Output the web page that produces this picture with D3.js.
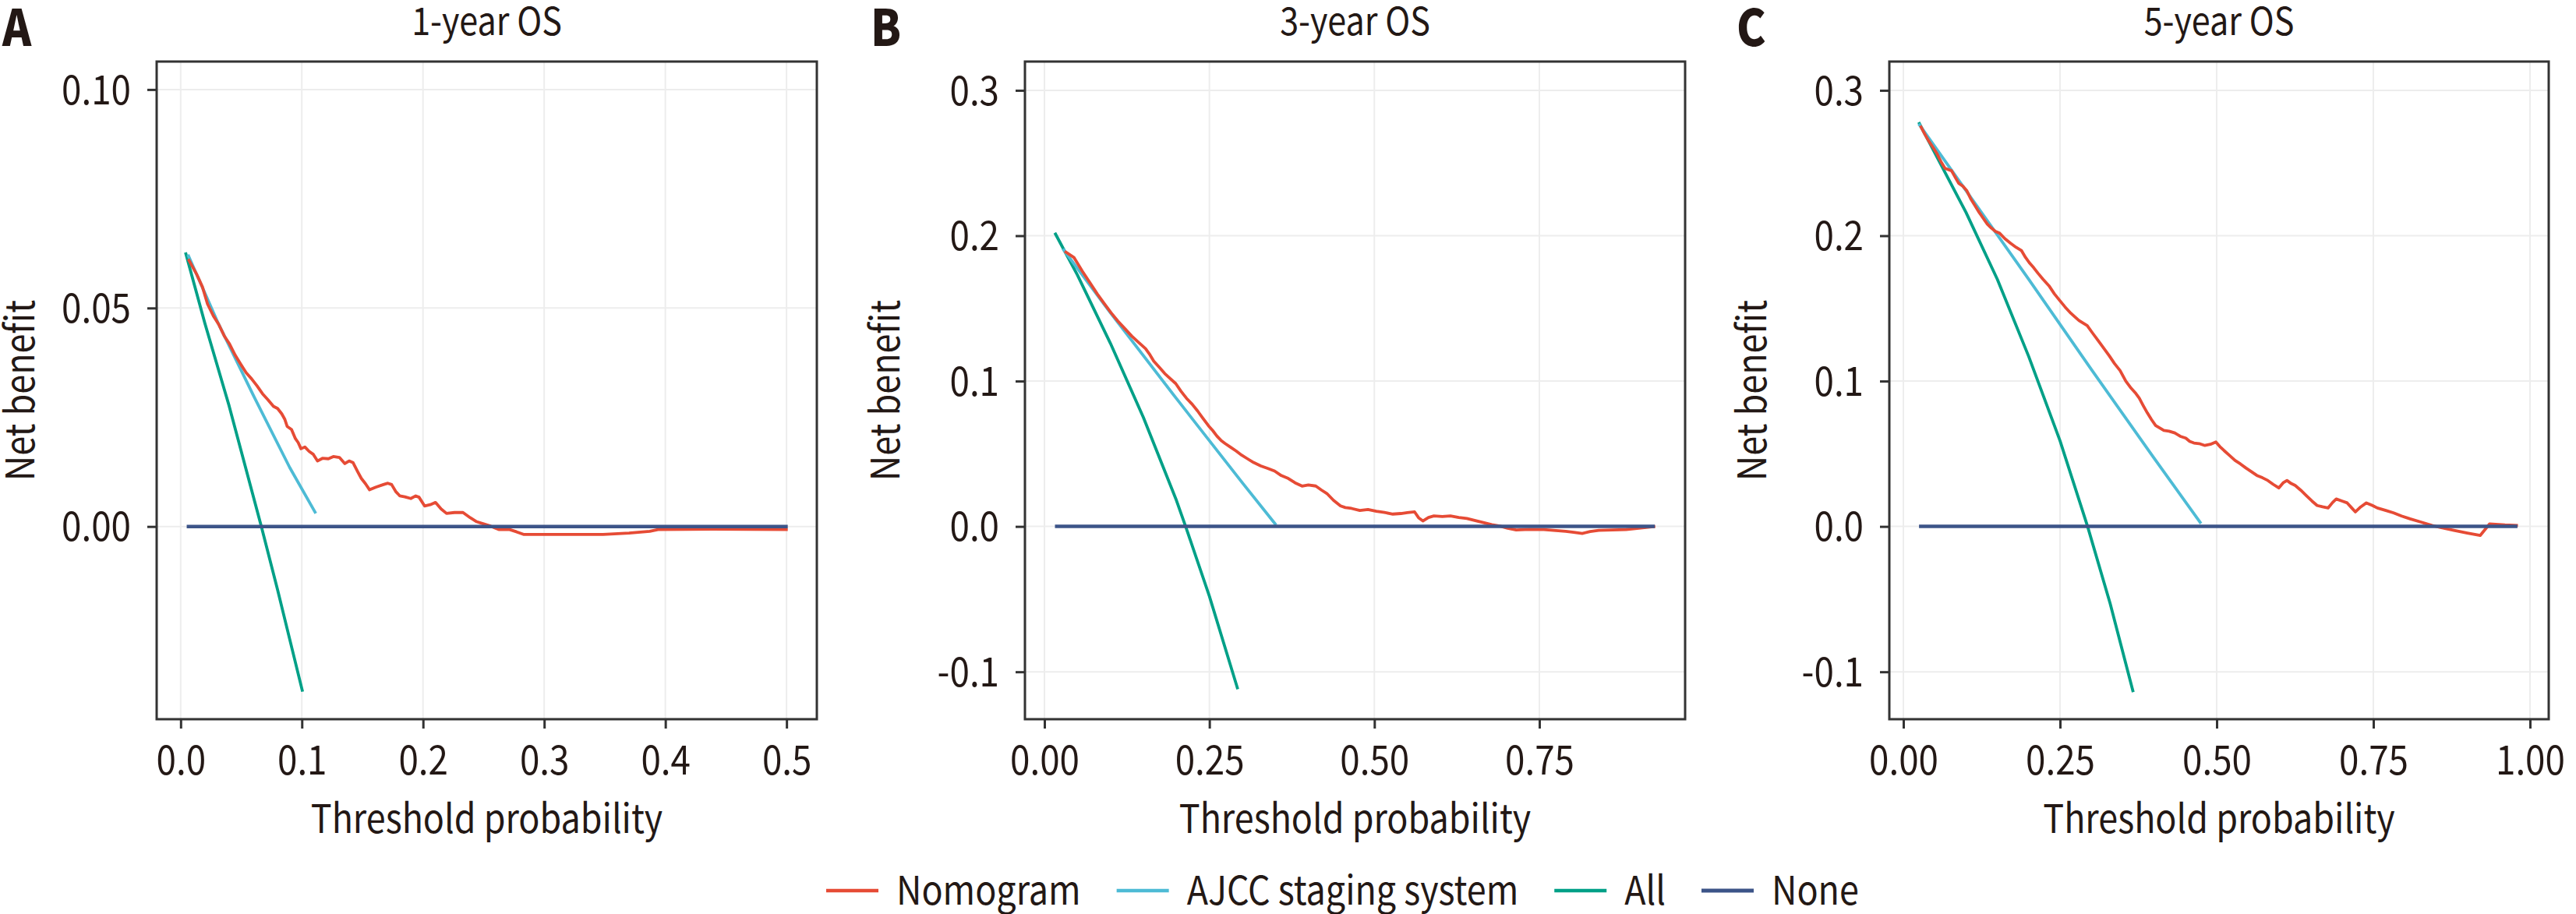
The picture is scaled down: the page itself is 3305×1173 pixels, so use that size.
<!DOCTYPE html>
<html>
<head>
<meta charset="utf-8">
<script src="https://cdn.jsdelivr.net/npm/d3@7"></script>
<style>
html,body{margin:0;padding:0;background:#fff;}
svg{display:block;}
</style>
</head>
<body>
<svg id="chart" width="3305" height="1173"></svg>
<script>
// ---------------- DATA ----------------
const panelLetters = ["A", "B", "C"];
const panelTitles = ["1-year OS", "3-year OS", "5-year OS"];
const seriesNames = ["Nomogram", "AJCC staging system", "All", "None"];
const xAxisTitle = "Threshold probability";
const yAxisTitle = "Net benefit";

const xTicksA = [0, 0.1, 0.2, 0.3, 0.4, 0.5];
const xTickLabelsA = ["0.0", "0.1", "0.2", "0.3", "0.4", "0.5"];
const yTicksA = [0, 0.05, 0.10];
const yTickLabelsA = ["0.00", "0.05", "0.10"];
const xTicksB = [0, 0.25, 0.5, 0.75];
const xTickLabelsB = ["0.00", "0.25", "0.50", "0.75"];
const yTicksB = [-0.1, 0, 0.1, 0.2, 0.3];
const yTickLabelsB = ["-0.1", "0.0", "0.1", "0.2", "0.3"];
const xTicksC = [0, 0.25, 0.5, 0.75, 1.0];
const xTickLabelsC = ["0.00", "0.25", "0.50", "0.75", "1.00"];
const yTicksC = [-0.1, 0, 0.1, 0.2, 0.3];
const yTickLabelsC = ["-0.1", "0.0", "0.1", "0.2", "0.3"];

// axis limits (x, y) per panel
const xLimA = [-0.0198, 0.525], yLimA = [-0.0441, 0.1064];
const xLimB = [-0.0295, 0.9709], yLimB = [-0.1326, 0.3198];
const xLimC = [-0.0224, 1.0299], yLimC = [-0.1326, 0.3198];

// Panel A : 1-year OS
const nomogramA = [
  [0.0063,0.0612],[0.0131,0.0578],[0.0180,0.0548],[0.0222,0.0509],[0.0270,0.0482],[0.0313,0.0463],
  [0.0360,0.0436],[0.0403,0.0418],[0.0450,0.0392],[0.0494,0.0372],[0.0540,0.0352],[0.0585,0.0338],
  [0.0630,0.0322],[0.0675,0.0304],[0.0720,0.0290],[0.0766,0.0275],[0.0800,0.0270],[0.0834,0.0258],
  [0.0860,0.0245],[0.0879,0.0229],[0.0915,0.0222],[0.0947,0.0201],[0.0970,0.0192],[0.0993,0.0178],
  [0.1025,0.0182],[0.1060,0.0172],[0.1095,0.0165],[0.1129,0.0150],[0.1170,0.0156],[0.1219,0.0155],
  [0.1260,0.0160],[0.1310,0.0158],[0.1355,0.0144],[0.1390,0.0150],[0.1423,0.0146],[0.1460,0.0126],
  [0.1491,0.0110],[0.1525,0.0098],[0.1559,0.0084],[0.1610,0.0090],[0.1673,0.0096],[0.1710,0.0099],
  [0.1741,0.0096],[0.1775,0.0080],[0.1809,0.0070],[0.1850,0.0068],[0.1899,0.0064],[0.1940,0.0070],
  [0.1967,0.0067],[0.2013,0.0047],[0.2060,0.0050],[0.2103,0.0055],[0.2150,0.0040],[0.2194,0.0030],
  [0.2260,0.0032],[0.2330,0.0032],[0.2390,0.0020],[0.2443,0.0011],[0.2500,0.0006],[0.2557,0.0001],
  [0.2625,-0.0007],[0.2715,-0.0007],[0.2770,-0.0012],[0.2829,-0.0018],[0.3033,-0.0018],
  [0.3486,-0.0018],[0.3700,-0.0015],[0.3871,-0.0011],[0.3939,-0.0007],[0.4393,-0.0006],[0.5010,-0.0007]
];
const ajccA = [[0.006,0.0622],[0.031,0.0465],[0.06,0.0300],[0.09,0.0135],[0.1115,0.0030]];
const allA = [[0.004,0.0627],[0.02,0.0465],[0.04,0.0276],[0.0666,0.0],[0.08,-0.0145],[0.1006,-0.0378]];
const noneA = [[0.005,0],[0.501,0]];

// Panel B : 3-year OS
const nomogramB = [
  [0.0308,0.1893],[0.045,0.1849],[0.0574,0.1756],[0.0699,0.1670],[0.0800,0.1600],[0.0907,0.1533],
  [0.1010,0.1470],[0.1115,0.1412],[0.1220,0.1360],[0.1324,0.1309],[0.1430,0.1265],[0.1532,0.1223],
  [0.1600,0.1180],[0.1657,0.1137],[0.1740,0.1095],[0.1823,0.1052],[0.1900,0.1020],[0.1990,0.0983],
  [0.2070,0.0930],[0.2156,0.0880],[0.2240,0.0840],[0.2322,0.0794],[0.2400,0.0745],[0.2489,0.0691],
  [0.2550,0.0660],[0.2614,0.0622],[0.2680,0.0590],[0.2739,0.0570],[0.2820,0.0545],[0.2905,0.0519],
  [0.2990,0.0490],[0.3072,0.0467],[0.3170,0.0440],[0.3280,0.0416],[0.3380,0.0400],[0.3488,0.0381],
  [0.3590,0.0350],[0.3696,0.0330],[0.3800,0.0300],[0.3904,0.0278],[0.4000,0.0285],[0.4112,0.0278],
  [0.4200,0.0250],[0.4280,0.0227],[0.4380,0.0180],[0.4487,0.0141],[0.4560,0.0130],[0.4653,0.0124],
  [0.4780,0.0110],[0.4903,0.0117],[0.5030,0.0105],[0.5153,0.0096],[0.5280,0.0085],[0.5402,0.0089],
  [0.5500,0.0095],[0.5610,0.0100],[0.5670,0.0060],[0.5735,0.0038],[0.5820,0.0062],[0.5902,0.0072],
  [0.6030,0.0068],[0.6152,0.0072],[0.6280,0.0062],[0.6401,0.0055],[0.6530,0.0040],[0.6651,0.0027],
  [0.6780,0.0012],[0.6901,0.0003],[0.7020,-0.0012],[0.7150,-0.0024],[0.7350,-0.0020],[0.7567,-0.0021],
  [0.7750,-0.0028],[0.7900,-0.0034],[0.8020,-0.0040],[0.8150,-0.0048],[0.8270,-0.0035],[0.8400,-0.0027],
  [0.8815,-0.0021],[0.9257,0.0]
];
const ajccB = [[0.028,0.191],[0.10,0.147],[0.20,0.088],[0.30,0.030],[0.351,0.001]];
const allB = [[0.0158,0.202],[0.05,0.173],[0.10,0.126],[0.15,0.075],[0.20,0.018],[0.214,0.0],[0.25,-0.048],[0.293,-0.112]];
const noneB = [[0.016,0],[0.925,0]];

// Panel C : 5-year OS
const nomogramC = [
  [0.0271,0.2756],[0.0340,0.2700],[0.0402,0.2653],[0.0470,0.2610],[0.0533,0.2567],[0.0600,0.2510],
  [0.0664,0.2464],[0.0769,0.2447],[0.0830,0.2400],[0.0882,0.2361],[0.0950,0.2340],[0.1013,0.2309],
  [0.1080,0.2250],[0.1144,0.2206],[0.1210,0.2160],[0.1275,0.2120],[0.1340,0.2080],[0.1406,0.2052],
  [0.1470,0.2030],[0.1537,0.2017],[0.1620,0.1980],[0.1712,0.1948],[0.1800,0.1920],[0.1886,0.1897],
  [0.1950,0.1850],[0.2017,0.1811],[0.2080,0.1780],[0.2148,0.1742],[0.2230,0.1700],[0.2323,0.1656],
  [0.2410,0.1600],[0.2498,0.1553],[0.2580,0.1510],[0.2672,0.1467],[0.2740,0.1440],[0.2803,0.1416],
  [0.2934,0.1381],[0.3020,0.1330],[0.3109,0.1278],[0.3200,0.1225],[0.3284,0.1175],[0.3370,0.1120],
  [0.3459,0.1072],[0.3550,0.1000],[0.3633,0.0952],[0.3700,0.0920],[0.3764,0.0883],[0.3830,0.0830],
  [0.3895,0.0780],[0.3960,0.0735],[0.4026,0.0694],[0.4157,0.0660],[0.4240,0.0655],[0.4332,0.0643],
  [0.4420,0.0620],[0.4507,0.0608],[0.4570,0.0585],[0.4638,0.0574],[0.4720,0.0570],[0.4812,0.0557],
  [0.4900,0.0565],[0.4987,0.0581],[0.5050,0.0550],[0.5118,0.0522],[0.5200,0.0490],[0.5293,0.0454],
  [0.5380,0.0430],[0.5467,0.0402],[0.5550,0.0378],[0.5642,0.0351],[0.5730,0.0335],[0.5817,0.0316],
  [0.5900,0.0290],[0.5991,0.0265],[0.6060,0.0300],[0.6122,0.0316],[0.6190,0.0295],[0.6253,0.0282],
  [0.6340,0.0250],[0.6428,0.0213],[0.6520,0.0175],[0.6603,0.0144],[0.6690,0.0135],[0.6777,0.0127],
  [0.6850,0.0165],[0.6908,0.0189],[0.7000,0.0175],[0.7083,0.0162],[0.7150,0.0130],[0.7214,0.0100],
  [0.7300,0.0135],[0.7389,0.0162],[0.7480,0.0145],[0.7563,0.0127],[0.7700,0.0110],[0.7825,0.0093],
  [0.7950,0.0072],[0.8087,0.0052],[0.8260,0.0030],[0.8437,0.0007],[0.8600,-0.0010],[0.8786,-0.0027],
  [0.9000,-0.0045],[0.9205,-0.0062],[0.9354,0.0017],[0.9600,0.0010],[0.9808,0.0007]
];
const ajccC = [[0.0245,0.277],[0.10,0.231],[0.20,0.170],[0.30,0.108],[0.40,0.047],[0.475,0.002]];
const allC = [[0.0245,0.278],[0.10,0.216],[0.15,0.170],[0.20,0.117],[0.25,0.059],[0.294,0.0],[0.33,-0.053],[0.3668,-0.114]];
const noneC = [[0.025,0],[0.98,0]];

// ---------------- STYLE / LAYOUT ----------------
const colors = ["#E64B35", "#4DBBD5", "#00A087", "#3C5488"];
const FONT = "'Noto Sans CJK JP', 'Noto Sans CJK SC', 'Noto Sans', sans-serif";
const TEXT = "#231815";
const SX = 0.88;           // horizontal condensing of the text (narrow Gothic look)
const BOX_TOP = 79, BOX_BOTTOM = 923;

const panels = [
  {letter: panelLetters[0], title: panelTitles[0], left: 201, right: 1048, xLim: xLimA, yLim: yLimA,
   xTicks: xTicksA, xLabels: xTickLabelsA, yTicks: yTicksA, yLabels: yTickLabelsA,
   series: [nomogramA, ajccA, allA, noneA], letterX: 3, yTitleX: 26},
  {letter: panelLetters[1], title: panelTitles[1], left: 1315, right: 2162, xLim: xLimB, yLim: yLimB,
   xTicks: xTicksB, xLabels: xTickLabelsB, yTicks: yTicksB, yLabels: yTickLabelsB,
   series: [nomogramB, ajccB, allB, noneB], letterX: 1117, yTitleX: 1136},
  {letter: panelLetters[2], title: panelTitles[2], left: 2424, right: 3270, xLim: xLimC, yLim: yLimC,
   xTicks: xTicksC, xLabels: xTickLabelsC, yTicks: yTicksC, yLabels: yTickLabelsC,
   series: [nomogramC, ajccC, allC, noneC], letterX: 2228, yTitleX: 2248}
];

const svg = d3.select("#chart");
svg.append("rect").attr("width", 3305).attr("height", 1173).attr("fill", "#fff");

function label(parent, x, y, txt, size, opts = {}) {
  const rot = opts.rotate ? ` rotate(${opts.rotate})` : "";
  return parent.append("text")
    .attr("transform", `translate(${x},${y})${rot} scale(${SX},1)`)
    .attr("text-anchor", opts.anchor || "start")
    .attr("dy", opts.dy || null)
    .attr("font-family", FONT).attr("font-size", size)
    .attr("font-weight", opts.weight || null)
    .attr("fill", TEXT).text(txt);
}

panels.forEach(p => {
  const g = svg.append("g");
  const x = d3.scaleLinear().domain(p.xLim).range([p.left, p.right]);
  const y = d3.scaleLinear().domain(p.yLim).range([BOX_BOTTOM, BOX_TOP]);

  // grid
  g.append("g").selectAll("line").data(p.xTicks).join("line")
    .attr("x1", d => x(d)).attr("x2", d => x(d)).attr("y1", BOX_TOP).attr("y2", BOX_BOTTOM)
    .attr("stroke", "#EDEDED").attr("stroke-width", 2);
  g.append("g").selectAll("line").data(p.yTicks).join("line")
    .attr("x1", p.left).attr("x2", p.right).attr("y1", d => y(d)).attr("y2", d => y(d))
    .attr("stroke", "#EDEDED").attr("stroke-width", 2);

  // axes via d3
  const xAxis = d3.axisBottom(x).tickValues(p.xTicks).tickFormat((d, i) => p.xLabels[i])
    .tickSize(12).tickPadding(22);
  const xa = g.append("g").attr("transform", `translate(0,${BOX_BOTTOM})`).call(xAxis);
  xa.select(".domain").remove();
  xa.selectAll(".tick line").attr("stroke", "#333333").attr("stroke-width", 3);
  xa.selectAll(".tick text").attr("font-family", FONT).attr("font-size", 52).attr("fill", TEXT)
    .attr("transform", `scale(${SX},1)`);

  const yAxis = d3.axisLeft(y).tickValues(p.yTicks).tickFormat((d, i) => p.yLabels[i])
    .tickSize(12).tickPadding(22);
  const ya = g.append("g").attr("transform", `translate(${p.left},0)`).call(yAxis);
  ya.select(".domain").remove();
  ya.selectAll(".tick line").attr("stroke", "#333333").attr("stroke-width", 3);
  ya.selectAll(".tick text").attr("font-family", FONT).attr("font-size", 52).attr("fill", TEXT)
    .attr("dy", "0.35em").attr("x", -33 / SX).attr("transform", `scale(${SX},1)`);

  // lines (draw order: All, AJCC, Nomogram, None)
  const line = d3.line().x(d => x(d[0])).y(d => y(d[1]));
  [2, 1, 0, 3].forEach(si => {
    g.append("path").datum(p.series[si]).attr("d", line)
      .attr("fill", "none").attr("stroke", colors[si])
      .attr("stroke-width", si === 3 ? 4.5 : 3.8)
      .attr("stroke-linejoin", "round");
  });

  // border
  g.append("rect").attr("x", p.left).attr("y", BOX_TOP)
    .attr("width", p.right - p.left).attr("height", BOX_BOTTOM - BOX_TOP)
    .attr("fill", "none").attr("stroke", "#333333").attr("stroke-width", 3);

  label(g, (p.left + p.right) / 2, 45, p.title, 49, {anchor: "middle"});
  label(g, p.letterX, 59, p.letter, 64, {weight: 900});
  label(g, (p.left + p.right) / 2, 1069, xAxisTitle, 51, {anchor: "middle"});
  label(g, p.yTitleX, (BOX_TOP + BOX_BOTTOM) / 2, yAxisTitle, 51,
        {anchor: "middle", rotate: -90, dy: "0.35em"});
});

// legend
const leg = svg.append("g");
let lx = 1060;
const LY = 1143;
seriesNames.forEach((name, i) => {
  leg.append("line").attr("x1", lx).attr("x2", lx + 67).attr("y1", LY).attr("y2", LY)
    .attr("stroke", colors[i]).attr("stroke-width", i === 3 ? 5 : 4.5);
  const t = label(leg, lx + 90, LY, name, 51, {dy: "0.35em"});
  const w = t.node().getComputedTextLength() * SX;
  lx = lx + 90 + w + 46;
});
</script>
</body>
</html>
